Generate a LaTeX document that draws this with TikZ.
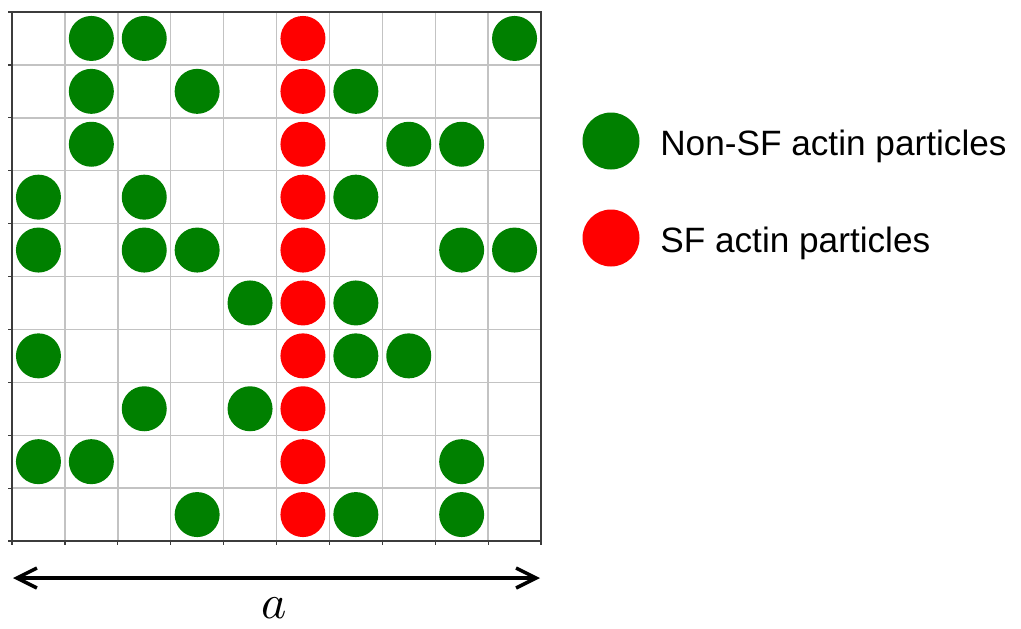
\documentclass[tikz,border=0pt]{standalone}
\usepackage{fontspec}
\setmainfont{Liberation Sans}
\usetikzlibrary{arrows.meta,positioning}
\definecolor{partgreen}{RGB}{0,128,0}
\definecolor{partred}{RGB}{255,0,0}
\definecolor{gridgrey}{RGB}{195,195,195}
\definecolor{axisgrey}{RGB}{60,60,60}

\begin{document}
\begin{tikzpicture}[x=0.5pt, y=-0.5pt,
    particle/.style={circle, minimum size=22.5pt, inner sep=0pt},
    nonsf/.style={particle, fill=partgreen},
    sf/.style={particle, fill=partred},
    legdot/.style={circle, minimum size=28.5pt, inner sep=0pt},
    legtext/.style={font=\fontsize{17.6}{20}\selectfont, inner sep=0pt, yshift=-2.5pt},
    arr/.style={{Straight Barb[length=10pt,width=10pt]}-{Straight Barb[length=10pt,width=10pt]},
        line width=1.75pt}
]
    \useasboundingbox (0,0) rectangle (1021,628);
    \def\cell{52.9}

    % Grid lines
    \foreach \k in {1,...,9} {
        \draw[gridgrey, line width=0.7pt] ({12+\k*\cell},12) -- ({12+\k*\cell},541);
        \draw[gridgrey, line width=0.7pt] (12,{12+\k*\cell}) -- (541,{12+\k*\cell});
    }
    % Frame and ticks
    \draw[axisgrey, line width=0.9pt] (12,12) rectangle (541,541);
    \foreach \k in {0,...,10} {
        \draw[axisgrey, line width=0.6pt] (8,{12+\k*\cell}) -- (12,{12+\k*\cell});
        \draw[axisgrey, line width=0.6pt] ({12+\k*\cell},541) -- ({12+\k*\cell},545);
    }

    % Non-SF particles, row by row
    \foreach \row/\cols in {1/{2,3,10}, 2/{2,4,7}, 3/{2,8,9}, 4/{1,3,7},
        5/{1,3,4,9,10}, 6/{5,7}, 7/{1,7,8}, 8/{3,5}, 9/{1,2,9}, 10/{4,7,9}} {
        \foreach \col in \cols {
            \node[nonsf] (g-\row-\col) at ({12+(\col-0.5)*\cell},{12+(\row-0.5)*\cell}) {};
        }
    }
    % SF particles in the middle column
    \foreach \row in {1,...,10} {
        \node[sf] (r-\row) at ({12+5.5*\cell},{12+(\row-0.5)*\cell}) {};
    }

    % Legend
    \node[legdot, fill=partgreen] (leg-nonsf) at (611,141) {};
    \node[legtext, right=10pt of leg-nonsf] (txt-nonsf) {Non-SF actin particles};
    \node[legdot, fill=partred] (leg-sf) at (611,238) {};
    \node[legtext, right=10pt of leg-sf] (txt-sf) {SF actin particles};

    % Side length
    \coordinate (arrL) at (13,578);
    \coordinate (arrR) at (540,578);
    \draw[arr] (arrL) -- (arrR);
    \node[scale=2.4] (alen) at (274,608) {$a$};
\end{tikzpicture}
\end{document}
